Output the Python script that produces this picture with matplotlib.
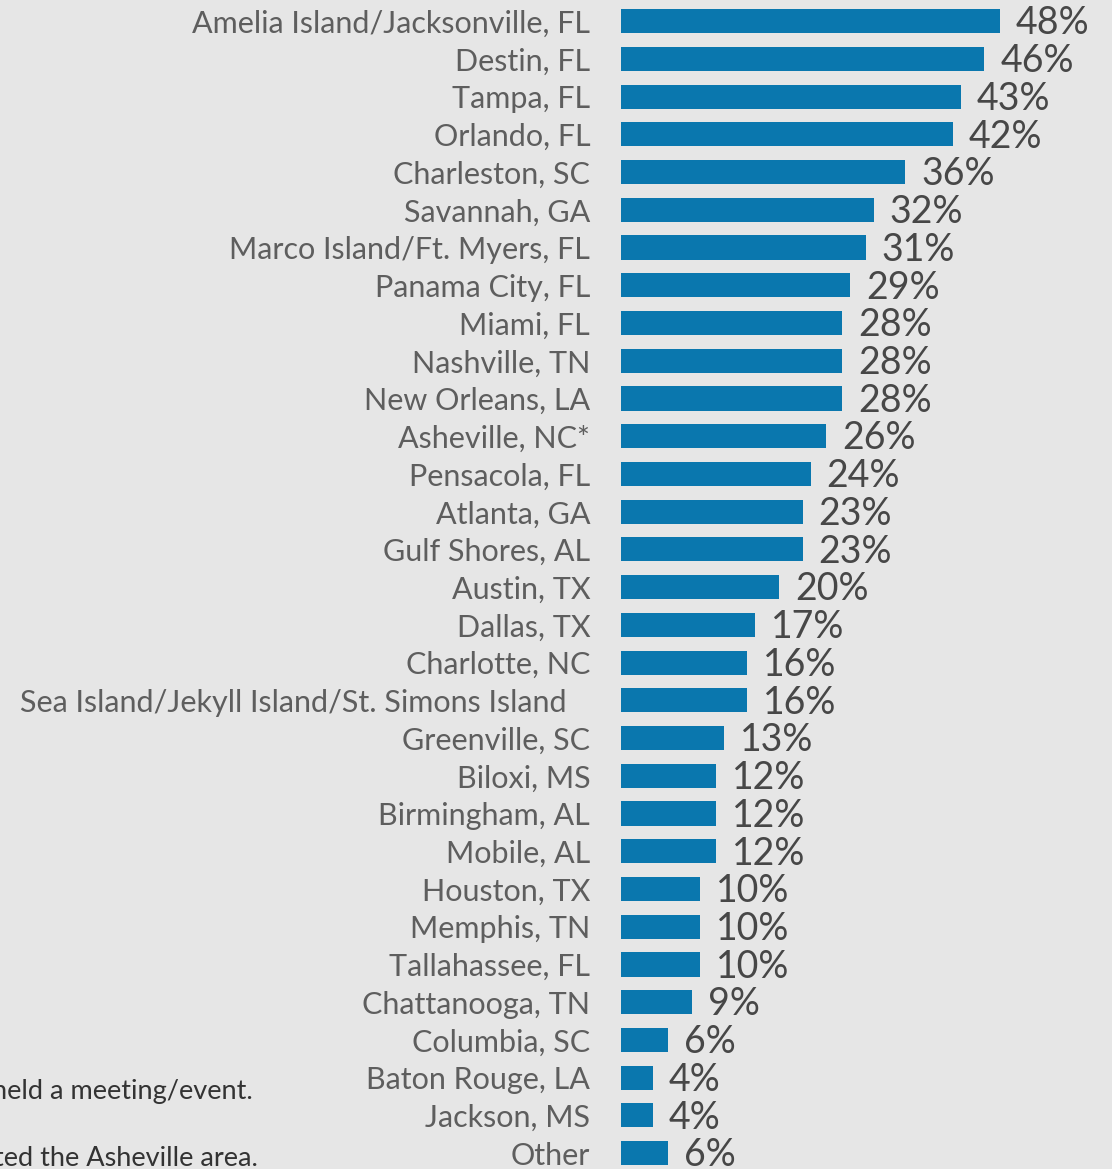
import matplotlib.pyplot as plt
import numpy as np

cities = ['Amelia Island/Jacksonville, FL', 'Destin, FL', 'Tampa, FL', 'Orlando, FL',
          'Charleston, SC', 'Savannah, GA', 'Marco Island/Ft. Myers, FL', 'Panama City, FL',
          'Miami, FL', 'Nashville, TN', 'New Orleans, LA', 'Asheville, NC*', 'Pensacola, FL',
          'Atlanta, GA', 'Gulf Shores, AL', 'Austin, TX', 'Dallas, TX', 'Charlotte, NC',
          'Sea Island/Jekyll Island/St. Simons Island', 'Greenville, SC', 'Biloxi, MS',
          'Birmingham, AL', 'Mobile, AL', 'Houston, TX', 'Memphis, TN', 'Tallahassee, FL',
          'Chattanooga, TN', 'Columbia, SC', 'Baton Rouge, LA', 'Jackson, MS', 'Other']
pct = [48, 46, 43, 42, 36, 32, 31, 29, 28, 28, 28, 26, 24, 23, 23, 20, 17, 16, 16,
       13, 12, 12, 12, 10, 10, 10, 9, 6, 4, 4, 6]
notes = ['held a meeting/event.', 'ted the Asheville area.']

bg = '#e6e6e6'
W, H = 1112, 1169
fig = plt.figure(figsize=(W / 100, H / 100), dpi=100, facecolor=bg)
ax = fig.add_axes([621 / W, 0, 1 - 621 / W, 1])
ax.set_facecolor(bg)

y = np.arange(len(cities))
ax.barh(y, pct, height=0.64, color='#0a77ae', zorder=2)
ax.set_xlim(0, 491 / 7.9)
ax.set_ylim(30.42, -0.56)

for i, (c, v) in enumerate(zip(cities, pct)):
    lab = c + '   ' if c.startswith('Sea Island') else c
    ax.text(-3.9, i + 0.07, lab, ha='right', va='center', fontsize=22, color='#5e5e5e',
            family='Lato', clip_on=False)
    ax.text(v + 2.0, i + 0.06, '%d%%' % v, ha='left', va='center', fontsize=27,
            color='#474747', family='Lato', clip_on=False)

ax.axvline(-0.1, color='#d6d6d6', lw=1.2, zorder=1)
for s in ax.spines.values():
    s.set_visible(False)
ax.set_xticks([])
ax.set_yticks([])

fig.text(-8 / W, 1 - 1091 / H, notes[0], ha='left', va='center', fontsize=19.5,
         color='#333333', family='Lato')
fig.text(-6 / W, 1 - 1158 / H, notes[1], ha='left', va='center', fontsize=19.5,
         color='#333333', family='Lato')

fig.savefig('out.png', dpi=100, facecolor=bg)
